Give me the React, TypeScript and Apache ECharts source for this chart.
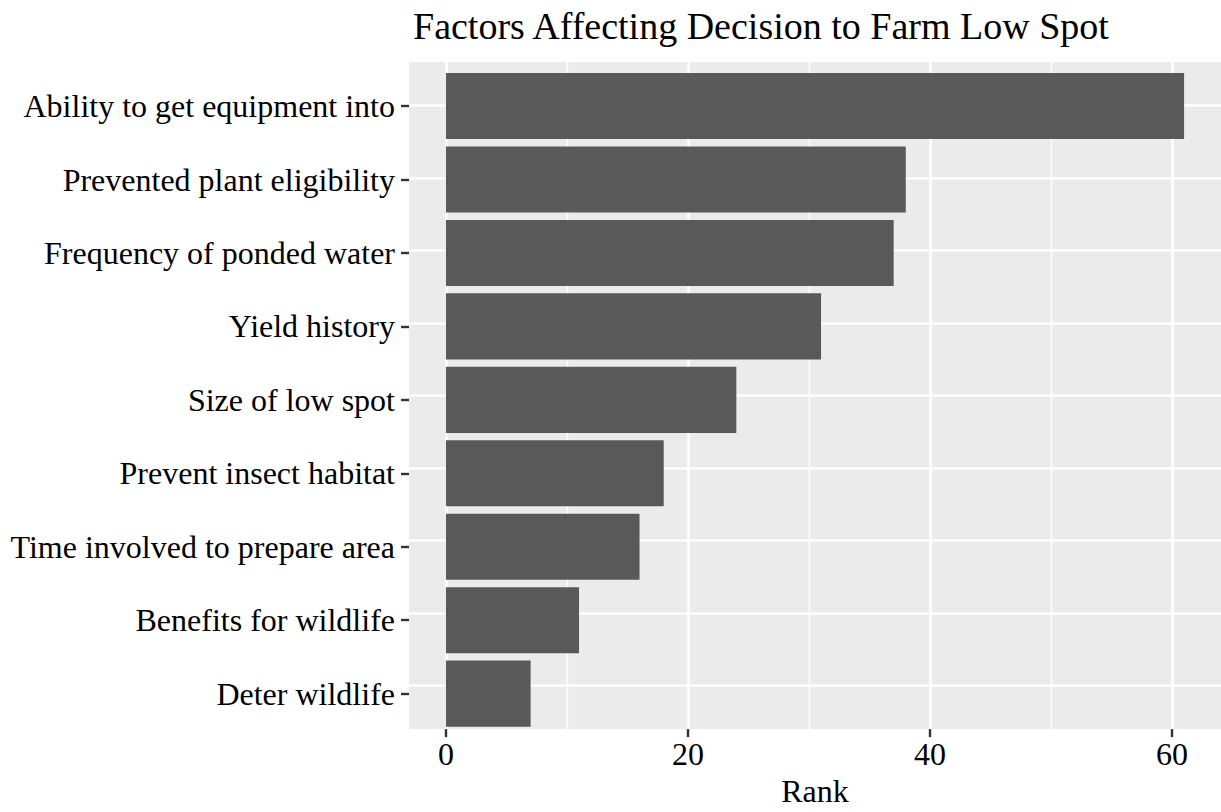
import React, { useEffect, useRef } from "react";
import * as echarts from "echarts";

const categories = [
  "Ability to get equipment into",
  "Prevented plant eligibility",
  "Frequency of ponded water",
  "Yield history",
  "Size of low spot",
  "Prevent insect habitat",
  "Time involved to prepare area",
  "Benefits for wildlife",
  "Deter wildlife",
];
const values = [61, 38, 37, 31, 24, 18, 16, 11, 7];
const majorTicks = [0, 20, 40, 60];
const minorTicks = [10, 30, 50];
const categoryPositions = [1, 2, 3, 4, 5, 6, 7, 8, 9];

const FONT = "'Liberation Serif', 'Times New Roman', serif";

export default function App() {
  const ref = useRef<HTMLDivElement>(null);
  useEffect(() => {
    if (!ref.current) return;
    const chart = echarts.init(ref.current, undefined, { renderer: "svg" });
    const xMin = -3.05;
    const xMax = 64.05;
    const panelTop = 62;
    const panelH = 675.7;
    const unit = panelH / 9.2;
    const bandTop = panelTop + 0.1 * unit;
    const bandH = unit * 9;
    chart.setOption({
      animation: false,
      backgroundColor: "#ffffff",
      title: {
        text: "Factors Affecting Decision to Farm Low Spot",
        left: 408,
        top: 2,
        textStyle: { fontFamily: FONT, fontSize: 38, fontWeight: "normal", color: "#000" },
      },
      grid: [
        { left: 409, top: panelTop, width: 818, height: panelH, show: true, backgroundColor: "#EBEBEB", borderWidth: 0, containLabel: false },
        { left: 409, top: bandTop, width: 818, height: bandH, show: false, containLabel: false },
      ],
      xAxis: [
        {
          type: "value",
          gridIndex: 0,
          min: xMin,
          max: xMax,
          axisLine: { show: false, onZero: false },
          axisTick: { show: true, customValues: majorTicks, length: 8, lineStyle: { color: "#333333", width: 2.4 } },
          axisLabel: { show: true, customValues: majorTicks, margin: 9, fontFamily: FONT, fontSize: 32, color: "#000" },
          splitLine: { show: true, lineStyle: { color: "#ffffff", width: 2.6 } },
          name: "Rank",
          nameLocation: "middle",
          nameGap: 43,
          nameTextStyle: { fontFamily: FONT, fontSize: 32, color: "#000", verticalAlign: "top" },
        },
        {
          type: "value",
          gridIndex: 0,
          min: xMin,
          max: xMax,
          axisLine: { show: false, onZero: false },
          axisTick: { show: false, customValues: minorTicks },
          axisLabel: { show: false, customValues: minorTicks },
          splitLine: { show: true, lineStyle: { color: "#ffffff", width: 1.4 } },
        },
        {
          type: "value",
          gridIndex: 1,
          min: xMin,
          max: xMax,
          show: false,
          axisLine: { onZero: false },
        },
      ],
      yAxis: [
        {
          type: "value",
          gridIndex: 0,
          min: 0.4,
          max: 9.6,
          inverse: true,
          axisLine: { show: false, onZero: false },
          axisTick: { show: false, customValues: categoryPositions },
          axisLabel: { show: false, customValues: categoryPositions },
          splitLine: { show: true, lineStyle: { color: "#ffffff", width: 2.6 } },
        },
        {
          type: "category",
          gridIndex: 1,
          data: categories,
          inverse: true,
          axisLine: { show: false, onZero: false },
          axisTick: { show: true, alignWithLabel: true, length: 8, lineStyle: { color: "#333333", width: 2.4 } },
          axisLabel: { margin: 14, fontFamily: FONT, fontSize: 32, color: "#000" },
          splitLine: { show: false },
        },
      ],
      series: [
        {
          type: "bar",
          xAxisIndex: 2,
          yAxisIndex: 1,
          data: values,
          barCategoryGap: "10%",
          itemStyle: { color: "#595959" },
          silent: true,
        },
      ],
    });
    return () => chart.dispose();
  }, []);
  return (
    <div
      ref={ref}
      style={{ position: "absolute", left: 0, top: 0, width: 1221, height: 812 }}
    />
  );
}
